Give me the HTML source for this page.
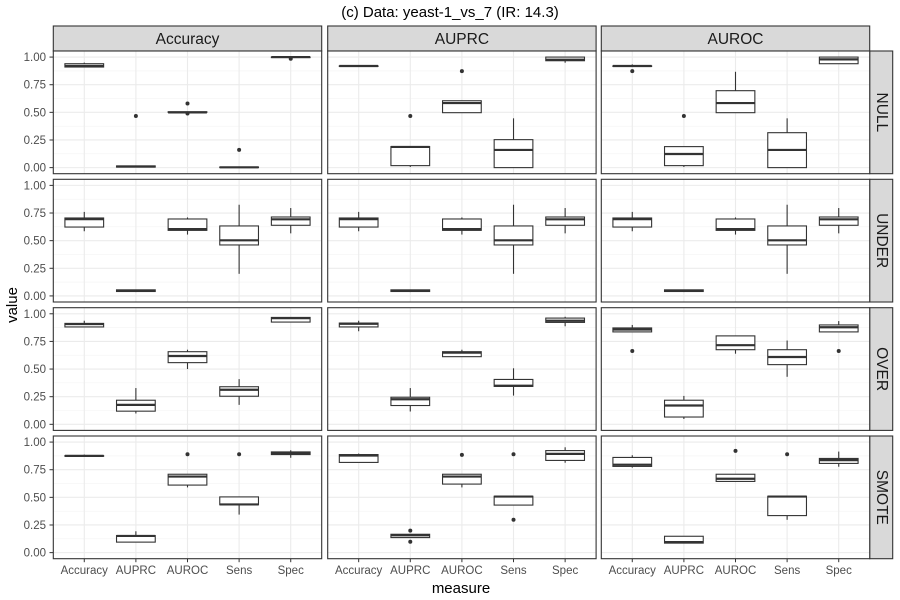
<!DOCTYPE html>
<html><head><meta charset="utf-8"><style>
body{margin:0;background:#fff;}
svg{display:block;font-family:"Liberation Sans",Arial,sans-serif;}
</style></head><body>
<svg id="chart" width="900" height="600"></svg>
<script>
const categories = ["Accuracy","AUPRC","AUROC","Sens","Spec"];
const columnFacets = ["Accuracy","AUPRC","AUROC"];
const rowFacets = ["NULL","UNDER","OVER","SMOTE"];
const yTicks = [0,0.25,0.5,0.75,1];
const yTickLabels = ["0.00","0.25","0.50","0.75","1.00"];
// stats per category: [lowWhisker, q1, median, q3, highWhisker]
const nullAccuracy = [[0.91,0.91,0.92,0.94,0.95],[0.005,0.005,0.01,0.015,0.015],[0.5,0.5,0.5,0.505,0.505],[0.002,0.002,0.003,0.005,0.005],[1.0,1.0,1.0,1.0,1.0]];
const nullAuprc = [[0.915,0.917,0.919,0.92,0.925],[0.006,0.018,0.187,0.19,0.19],[0.497,0.497,0.584,0.605,0.605],[0,0,0.16,0.253,0.446],[0.949,0.967,0.976,1.0,1.0]];
const nullAuroc = [[0.919,0.919,0.919,0.92,0.934],[0.006,0.018,0.123,0.19,0.19],[0.497,0.497,0.584,0.696,0.867],[0,0,0.16,0.316,0.446],[0.94,0.94,0.979,1.0,1.0]];
const underAll = [[0.585,0.623,0.695,0.705,0.76],[0.035,0.04,0.048,0.055,0.055],[0.555,0.593,0.605,0.696,0.71],[0.2,0.461,0.503,0.633,0.825],[0.566,0.639,0.693,0.714,0.795]];
const overAccuracy = [[0.881,0.881,0.907,0.913,0.937],[0.098,0.119,0.176,0.218,0.328],[0.5,0.558,0.618,0.657,0.675],[0.176,0.254,0.313,0.34,0.409],[0.925,0.925,0.961,0.967,0.967]];
const overAuprc = [[0.842,0.881,0.91,0.916,0.937],[0.116,0.17,0.227,0.245,0.328],[0.612,0.612,0.648,0.657,0.675],[0.26,0.343,0.349,0.406,0.507],[0.887,0.922,0.937,0.961,0.973]];
const overAuroc = [[0.836,0.836,0.857,0.872,0.899],[0.048,0.066,0.17,0.218,0.257],[0.639,0.675,0.716,0.8,0.8],[0.43,0.54,0.609,0.675,0.758],[0.836,0.836,0.878,0.899,0.934]];
const smoteAccuracy = [[0.872,0.872,0.875,0.877,0.887],[0.095,0.095,0.151,0.154,0.193],[0.59,0.611,0.688,0.709,0.709],[0.344,0.433,0.436,0.504,0.504],[0.858,0.887,0.899,0.911,0.926]];
const smoteAuprc = [[0.816,0.816,0.878,0.887,0.896],[0.136,0.136,0.157,0.166,0.166],[0.59,0.62,0.688,0.709,0.709],[0.43,0.43,0.507,0.51,0.51],[0.813,0.834,0.893,0.923,0.953]];
const smoteAuroc = [[0.769,0.78,0.795,0.861,0.881],[0.086,0.086,0.095,0.148,0.148],[0.644,0.644,0.668,0.709,0.709],[0.297,0.335,0.507,0.51,0.51],[0.777,0.807,0.837,0.852,0.914]];
// outliers: [categoryIndex, value]
const nullAccuracyOut = [[1,0.467],[2,0.58],[2,0.49],[3,0.16],[4,0.985]];
const nullAuprcOut = [[1,0.467],[2,0.873]];
const nullAurocOut = [[0,0.873],[1,0.467]];
const overAurocOut = [[0,0.663],[4,0.663]];
const smoteAccuracyOut = [[2,0.89],[3,0.89]];
const smoteAuprcOut = [[1,0.199],[1,0.098],[2,0.884],[3,0.89],[3,0.297]];
const smoteAurocOut = [[2,0.92],[3,0.89]];

const panelStats = [[nullAccuracy,nullAuprc,nullAuroc],[underAll,underAll,underAll],[overAccuracy,overAuprc,overAuroc],[smoteAccuracy,smoteAuprc,smoteAuroc]];
const panelOut = [[nullAccuracyOut,nullAuprcOut,nullAurocOut],[[],[],[]],[[],[],overAurocOut],[smoteAccuracyOut,smoteAuprcOut,smoteAurocOut]];

const NS="http://www.w3.org/2000/svg";
const svg=document.getElementById('chart');
function mk(tag,attrs,parent,text){const e=document.createElementNS(NS,tag);for(const k in attrs)e.setAttribute(k,attrs[k]);if(text!==undefined)e.textContent=text;(parent||svg).appendChild(e);return e;}

const colX=[53.3,327.7,601.3], panelW=268.4;
const rowY=[51,179.3,307.7,436], panelH=122.7;
function xScale(c,i){return colX[c]+(i+1-0.4)/5.2*panelW;}
function yScale(r,v){return rowY[r]+panelH-(v+0.055)/1.11*panelH;}
const bw=0.75/5.2*panelW;

const title=mk('text',{x:450,y:17,'text-anchor':'middle','font-size':15,fill:'#000'},svg,"(c) Data: yeast-1_vs_7 (IR: 14.3)");



for(let c=0;c<3;c++){
  const s=mk('rect',{x:colX[c],y:26,width:panelW,height:25,fill:'#d9d9d9',stroke:'#333','stroke-width':1.1});
  
  
  const t=mk('text',{x:colX[c]+panelW/2,y:44,'text-anchor':'middle','font-size':15.5,fill:'#1a1a1a'},svg,columnFacets[c]);
  
  
}
for(let r=0;r<4;r++){
  const s=mk('rect',{x:869.7,y:rowY[r],width:23,height:panelH,fill:'#d9d9d9',stroke:'#333','stroke-width':1.1});
  
  
  const cx=881.5,cy=rowY[r]+panelH/2;
  const t=mk('text',{x:cx,y:cy,'text-anchor':'middle','dominant-baseline':'central','font-size':15.5,fill:'#1a1a1a',transform:`rotate(90 ${cx} ${cy})`},svg,rowFacets[r]);
  
  
}

for(let r=0;r<4;r++){
  // y tick labels
  yTicks.forEach((v,k)=>{
    const t=mk('text',{x:46,y:yScale(r,v)+4,'text-anchor':'end','font-size':11.5,fill:'#4d4d4d'},svg,yTickLabels[k]);
    
    
    mk('line',{x1:49.5,x2:53.3,y1:yScale(r,v),y2:yScale(r,v),stroke:'#333','stroke-width':1});
  });
  for(let c=0;c<3;c++){
    const g=mk('g',{});
    
    
    mk('rect',{x:colX[c],y:rowY[r],width:panelW,height:panelH,fill:'#fff'},g);
    for(let k=0;k<4;k++){const v=(yTicks[k]+yTicks[k+1])/2;mk('line',{x1:colX[c],x2:colX[c]+panelW,y1:yScale(r,v),y2:yScale(r,v),stroke:'#f3f3f3','stroke-width':0.6},g);}
    yTicks.forEach(v=>mk('line',{x1:colX[c],x2:colX[c]+panelW,y1:yScale(r,v),y2:yScale(r,v),stroke:'#ebebeb','stroke-width':1.1},g));
    categories.forEach((cat,i)=>mk('line',{x1:xScale(c,i),x2:xScale(c,i),y1:rowY[r],y2:rowY[r]+panelH,stroke:'#ebebeb','stroke-width':1.1},g));
    const stats=panelStats[r][c];
    stats.forEach((st,i)=>{
      const bx=mk('g',{},g);
      
      
      const x=xScale(c,i);
      mk('line',{x1:x,x2:x,y1:yScale(r,st[0]),y2:yScale(r,st[1]),stroke:'#333','stroke-width':1.1},bx);
      mk('line',{x1:x,x2:x,y1:yScale(r,st[3]),y2:yScale(r,st[4]),stroke:'#333','stroke-width':1.1},bx);
      mk('rect',{x:x-bw/2,y:yScale(r,st[3]),width:bw,height:Math.max(0.5,yScale(r,st[1])-yScale(r,st[3])),fill:'#fff',stroke:'#333','stroke-width':1.1},bx);
      mk('line',{x1:x-bw/2,x2:x+bw/2,y1:yScale(r,st[2]),y2:yScale(r,st[2]),stroke:'#333','stroke-width':2.2},bx);
    });
    panelOut[r][c].forEach(o=>{
      const p=mk('circle',{cx:xScale(c,o[0]),cy:yScale(r,o[1]),r:2,fill:'#333'},g);
      
      
    });
    mk('rect',{x:colX[c],y:rowY[r],width:panelW,height:panelH,fill:'none',stroke:'#333','stroke-width':1.1},g);
  }
}
for(let c=0;c<3;c++){
  categories.forEach((cat,i)=>{
    const x=xScale(c,i);
    mk('line',{x1:x,x2:x,y1:rowY[3]+panelH,y2:rowY[3]+panelH+3.5,stroke:'#333','stroke-width':1});
    const t=mk('text',{x:x,y:574,'text-anchor':'middle','font-size':11.5,fill:'#4d4d4d'},svg,cat);
    
    
  });
}
const xt=mk('text',{x:461,y:593,'text-anchor':'middle','font-size':15,fill:'#000'},svg,"measure");


const yt=mk('text',{x:17,y:305,'text-anchor':'middle','font-size':15,fill:'#000',transform:'rotate(-90 17 305)'},svg,"value");


</script>
</body></html>
